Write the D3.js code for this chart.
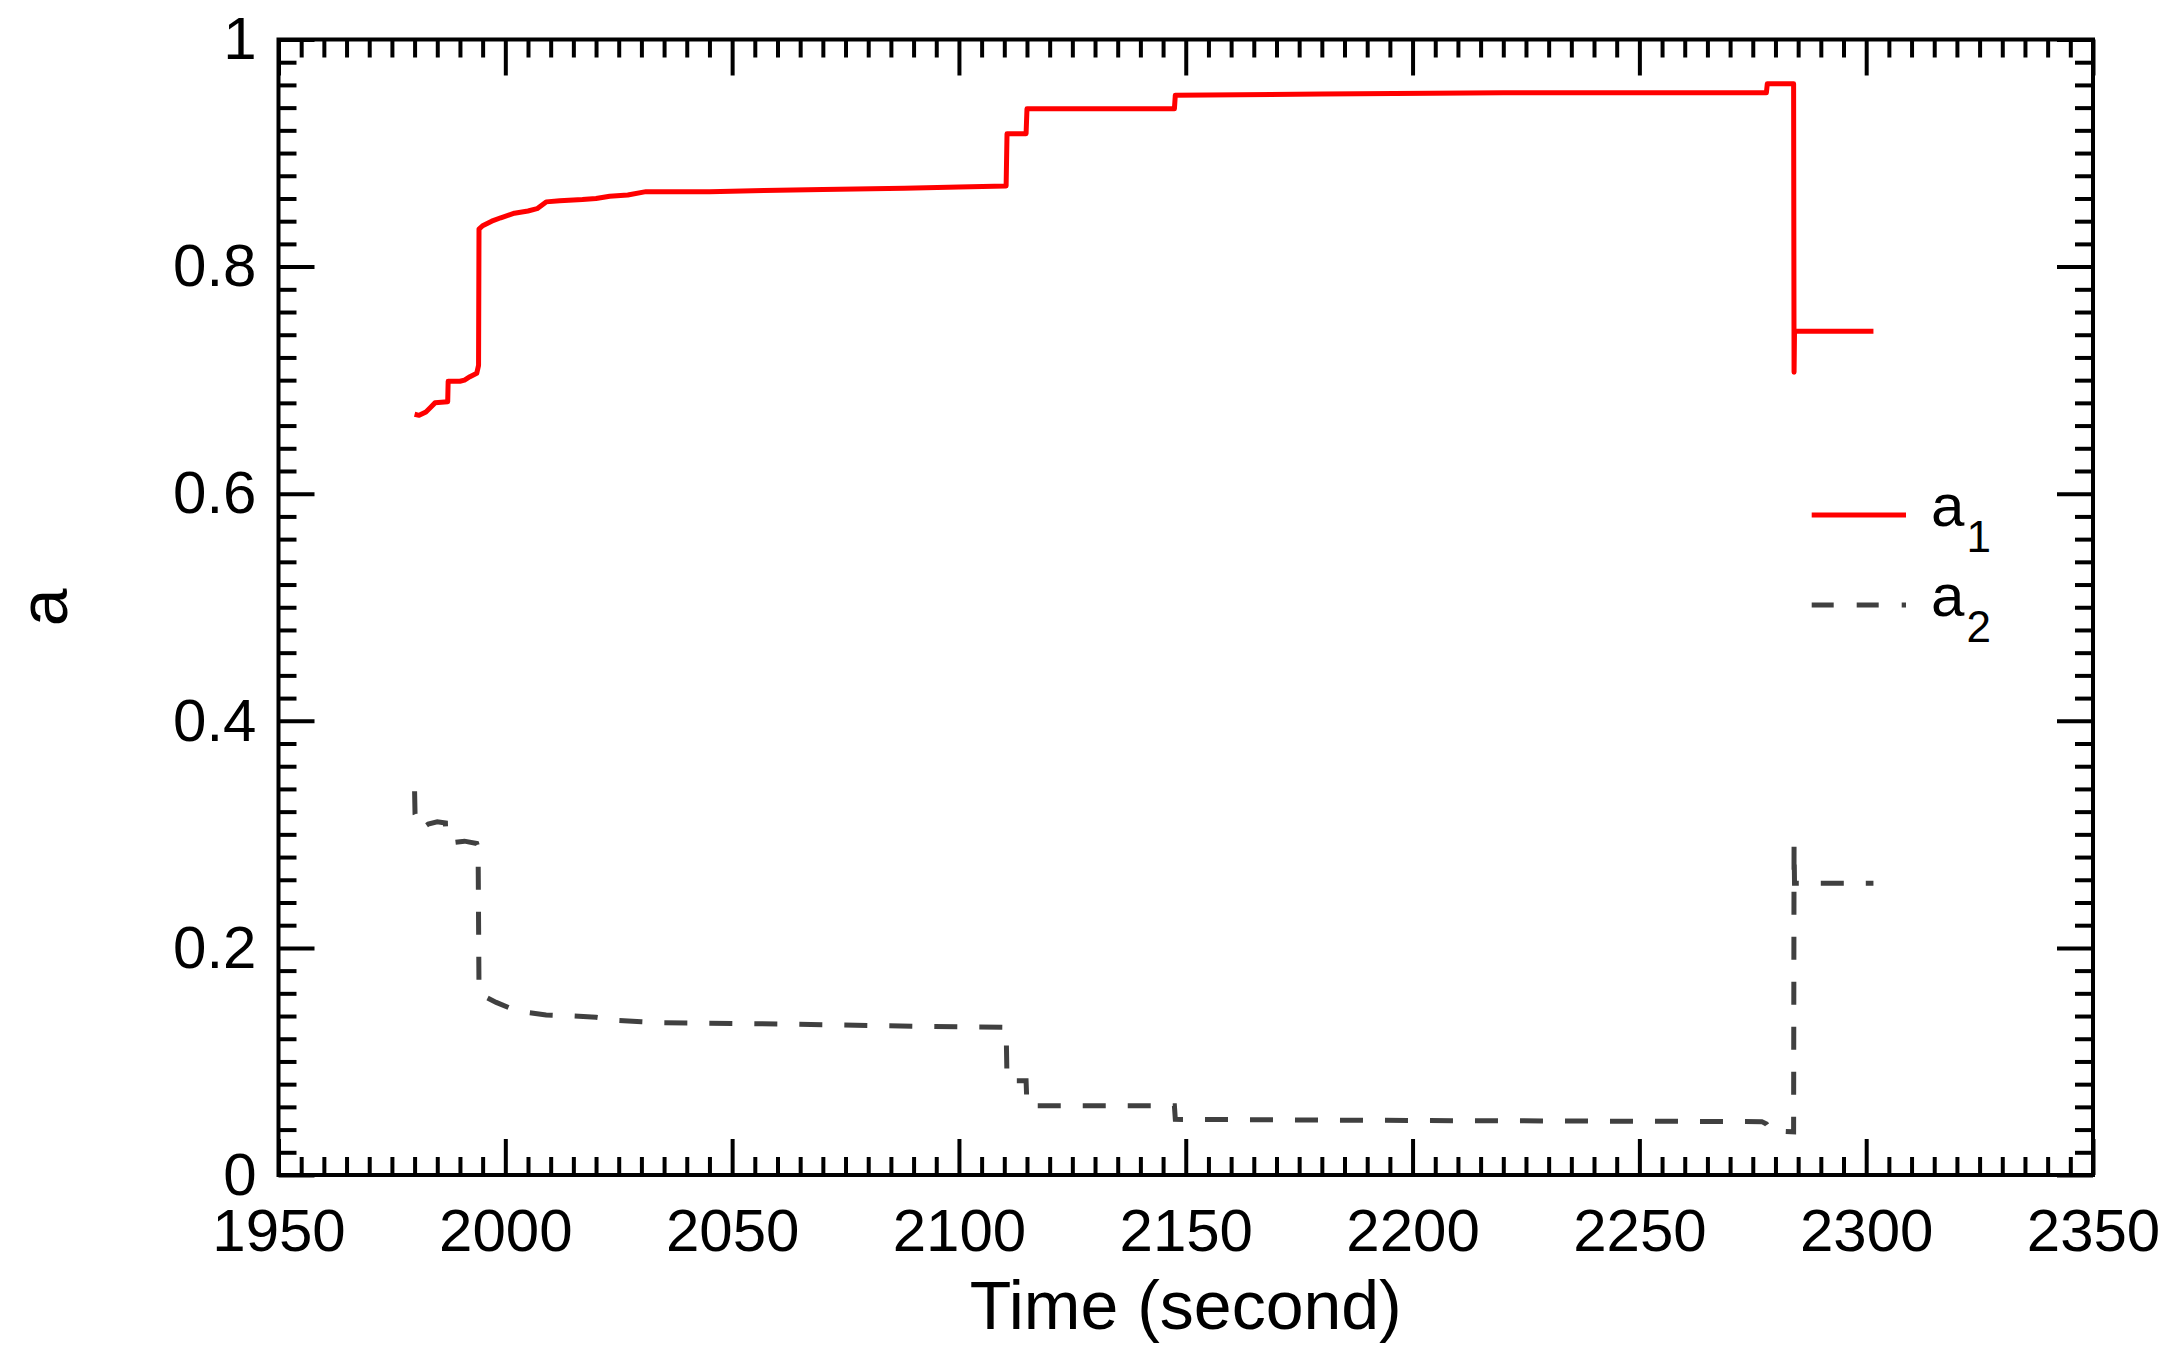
<!DOCTYPE html>
<html>
<head>
<meta charset="utf-8">
<script src="https://cdn.jsdelivr.net/npm/d3@7"></script>
<style>
  html, body { margin: 0; padding: 0; background: #fff; }
  svg { display: block; }
  text { font-family: "Liberation Sans", Arial, Helvetica, sans-serif; fill: #000; }
</style>
</head>
<body>
<div id="chart"></div>
<script>
// a1 (red, solid)
const timeA1 = [1980.0, 1981.0, 1982.5, 1983.5, 1984.5, 1987.3, 1987.4, 1990.0, 1991.0, 1992.2,
  1993.7, 1994.1, 1994.2, 1995.0, 1996.0, 1997.0, 1999.0, 2002.0, 2005.0, 2007.0,
  2009.0, 2012.0, 2017.0, 2020.0, 2023.0, 2027.0, 2031.0, 2045.0, 2057.0, 2070.0,
  2088.0, 2100.0, 2110.4, 2110.6, 2114.8, 2115.0, 2147.5, 2147.7, 2180.0, 2220.0,
  2278.0, 2278.2, 2284.0, 2284.1, 2284.2, 2301.6];
const valuesA1 = [0.670, 0.669, 0.672, 0.676, 0.680, 0.681, 0.699, 0.699, 0.700, 0.703,
  0.706, 0.713, 0.833, 0.836, 0.838, 0.840, 0.843, 0.847, 0.849, 0.851,
  0.857, 0.858, 0.859, 0.860, 0.862, 0.863, 0.866, 0.866, 0.867, 0.868,
  0.869, 0.870, 0.871, 0.917, 0.917, 0.939, 0.939, 0.951, 0.952, 0.953,
  0.953, 0.961, 0.961, 0.707, 0.743, 0.743];

// a2 (grey, dashed)
const timeA2 = [1980.0, 1980.1, 1981.5, 1983.0, 1985.0, 1986.8, 1986.9, 1989.0, 1991.0, 1993.7,
  1994.0, 1994.2, 1996.0, 1998.0, 2001.0, 2005.0, 2009.0, 2015.0, 2020.0, 2025.0,
  2030.0, 2035.0, 2060.0, 2090.0, 2110.4, 2110.6, 2114.8, 2115.0, 2147.5, 2147.7,
  2200.0, 2277.0, 2278.0, 2279.0, 2284.0, 2284.1, 2284.2, 2301.6];
const valuesA2 = [0.338, 0.318, 0.305, 0.309, 0.311, 0.310, 0.297, 0.293, 0.294, 0.292,
  0.288, 0.163, 0.156, 0.152, 0.147, 0.143, 0.141, 0.140, 0.139, 0.136,
  0.135, 0.134, 0.133, 0.131, 0.130, 0.083, 0.083, 0.061, 0.061, 0.049,
  0.048, 0.047, 0.045, 0.039, 0.038, 0.291, 0.257, 0.257];

const xMajor = [1950, 2000, 2050, 2100, 2150, 2200, 2250, 2300, 2350];
const yMajor = [0, 0.2, 0.4, 0.6, 0.8, 1];
const legendLabels = ["1", "2"];

const width = 2184, height = 1371;
const margin = {left: 278.5, right: width - 2093, top: 39.5, bottom: height - 1175};
const plotW = width - margin.left - margin.right;
const plotH = height - margin.top - margin.bottom;

const svg = d3.select("#chart").append("svg")
    .attr("width", width)
    .attr("height", height);

const x = d3.scaleLinear().domain([1950, 2350]).range([0, plotW]);
const y = d3.scaleLinear().domain([0, 1]).range([plotH, 0]);

const g = svg.append("g").attr("transform", `translate(${margin.left},${margin.top})`);

const xMinor = d3.range(1950, 2351, 5).filter(v => v % 50 !== 0);
const yMinor = d3.range(0, 51).map(i => i / 50).filter(v => Math.round(v * 50) % 10 !== 0);

function styleAxis (sel) {
    sel.select(".domain").remove();
    sel.selectAll(".tick line").attr("stroke", "#000").attr("stroke-width", 4);
    sel.selectAll("text").style("font-size", "60px").attr("fill", "#000");
}

// major + minor ticks on all four sides, pointing inward
g.append("g").attr("transform", `translate(0,${plotH})`)
    .call(d3.axisBottom(x).tickValues(xMajor).tickSize(-36).tickPadding(33).tickFormat(d3.format("d")))
    .call(styleAxis);
g.append("g").attr("transform", `translate(0,${plotH})`)
    .call(d3.axisBottom(x).tickValues(xMinor).tickSize(-18).tickFormat(""))
    .call(styleAxis);
g.append("g")
    .call(d3.axisTop(x).tickValues(xMajor).tickSize(-36).tickFormat(""))
    .call(styleAxis);
g.append("g")
    .call(d3.axisTop(x).tickValues(xMinor).tickSize(-18).tickFormat(""))
    .call(styleAxis);
g.append("g")
    .call(d3.axisLeft(y).tickValues(yMajor).tickSize(-36).tickPadding(22).tickFormat(d => d3.format("~g")(d)))
    .call(styleAxis);
g.append("g")
    .call(d3.axisLeft(y).tickValues(yMinor).tickSize(-18).tickFormat(""))
    .call(styleAxis);
g.append("g").attr("transform", `translate(${plotW},0)`)
    .call(d3.axisRight(y).tickValues(yMajor).tickSize(-36).tickFormat(""))
    .call(styleAxis);
g.append("g").attr("transform", `translate(${plotW},0)`)
    .call(d3.axisRight(y).tickValues(yMinor).tickSize(-18).tickFormat(""))
    .call(styleAxis);

// frame
g.append("rect")
    .attr("width", plotW)
    .attr("height", plotH)
    .attr("fill", "none")
    .attr("stroke", "#000")
    .attr("stroke-width", 4);

const line = d3.line().x(d => x(d[0])).y(d => y(d[1]));

g.append("path")
    .datum(d3.zip(timeA2, valuesA2))
    .attr("d", line)
    .attr("fill", "none")
    .attr("stroke", "#404040")
    .attr("stroke-width", 5)
    .attr("stroke-dasharray", "23,22");

g.append("path")
    .datum(d3.zip(timeA1, valuesA1))
    .attr("d", line)
    .attr("fill", "none")
    .attr("stroke", "#ff0000")
    .attr("stroke-width", 5)
    .attr("stroke-linejoin", "round");

// legend
const legend = svg.append("g");
const legendStyles = [
    {color: "#ff0000", dash: null, y: 515},
    {color: "#404040", dash: "22,23", y: 605}
];
legendStyles.forEach((s, i) => {
    legend.append("line")
        .attr("x1", 1811.7).attr("x2", 1906)
        .attr("y1", s.y).attr("y2", s.y)
        .attr("stroke", s.color)
        .attr("stroke-width", 5)
        .attr("stroke-dasharray", s.dash);
    const t = legend.append("text")
        .attr("x", 1931)
        .attr("y", s.y + 11)
        .style("font-size", "60px");
    t.append("tspan").text("a");
    t.append("tspan")
        .attr("dx", 2)
        .attr("dy", 26)
        .style("font-size", "44px")
        .text(legendLabels[i]);
});

// axis titles
svg.append("text")
    .attr("x", margin.left + plotW / 2)
    .attr("y", 1329)
    .attr("text-anchor", "middle")
    .style("font-size", "68px")
    .text("Time (second)");

svg.append("text")
    .attr("transform", `translate(67,${margin.top + plotH / 2}) rotate(-90)`)
    .attr("text-anchor", "middle")
    .style("font-size", "68px")
    .text("a");
</script>
</body>
</html>
